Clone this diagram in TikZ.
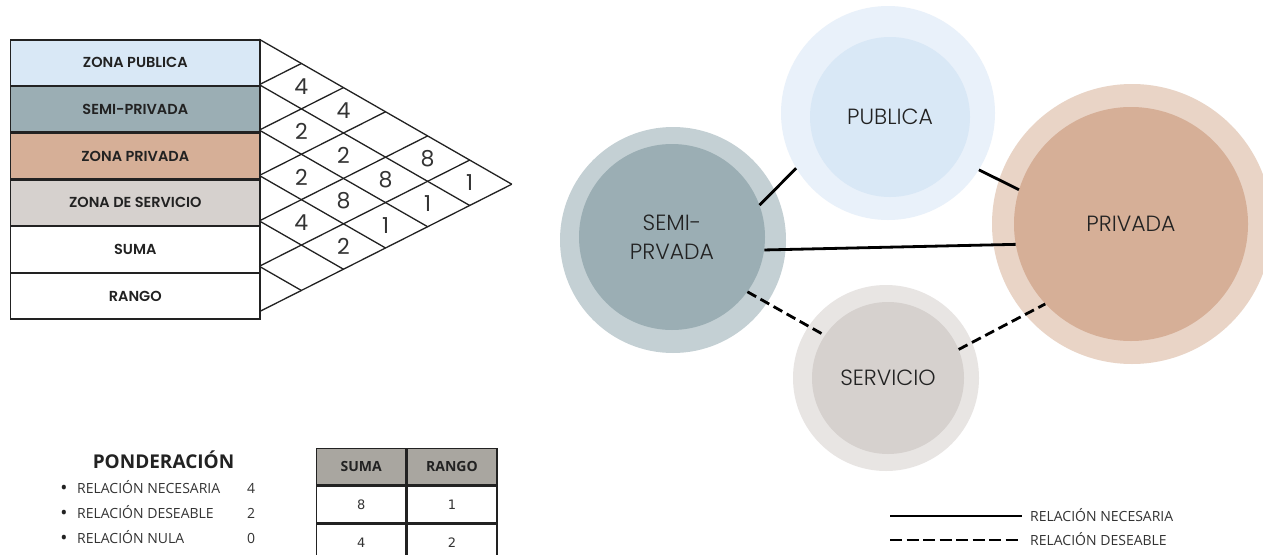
\documentclass[tikz,border=0pt]{standalone}
\usepackage{fontspec}
\setmainfont{Open Sans}
\newfontfamily\popf{Poppins}
\newfontfamily\popl{Poppins Light}
\newfontfamily\pops{Poppins SemiBold}
\newfontfamily\dejf{DejaVu Sans}
\usetikzlibrary{calc}
\definecolor{pubIn}{HTML}{D9E8F6}
\definecolor{pubOut}{HTML}{E9F1FA}
\definecolor{semIn}{HTML}{9BAEB4}
\definecolor{semOut}{HTML}{C4D0D4}
\definecolor{priIn}{HTML}{D6AF97}
\definecolor{priOut}{HTML}{E9D4C6}
\definecolor{serIn}{HTML}{D6D1CE}
\definecolor{serOut}{HTML}{E8E5E3}
\definecolor{hdr}{HTML}{A9A6A0}
\definecolor{ink}{HTML}{222222}
\definecolor{txt}{HTML}{333333}
\begin{document}
\begin{tikzpicture}[x=1pt,y=-1pt,
  rowcell/.style={draw=ink, line width=1.3pt, minimum width=249.3pt, minimum height=45.4pt,
    inner sep=0pt, anchor=north west, font=\pops\fontsize{14.5}{16}\selectfont, text=ink},
  tri/.style={draw=ink, line width=1.3pt},
  num/.style={font=\popf\fontsize{22}{24}\selectfont, text=txt, inner sep=0pt},
  ring/.style={circle, inner sep=0pt, draw=none},
  lab/.style={circle, inner sep=0pt, draw=none, align=center, text=ink,
    font=\popl\fontsize{22}{29}\selectfont},
  rel/.style={draw=black, line width=2.8pt},
  reld/.style={rel, dash pattern=on 10pt off 5pt},
  tcell/.style={draw=ink, line width=1.3pt, inner sep=0pt, anchor=north west},
  thd/.style={tcell, fill=hdr, minimum height=36pt, font=\bfseries\fontsize{14}{16}\selectfont, text=ink},
  tnum/.style={tcell, minimum height=37pt, font=\dejf\fontsize{13}{15}\selectfont, text=txt},
  leg/.style={inner sep=0pt, font=\fontsize{14}{16}\selectfont, text=txt},
  bul/.style={inner sep=0pt, font=\fontsize{19}{20}\selectfont, text=ink}
]
\useasboundingbox (0,0) rectangle (1263,554);
\fill[white] (0,0) rectangle (1263,554);

% ---------- relationship matrix: rows ----------
\node[rowcell, fill=pubIn] (r0) at (10,39.3) {ZONA PUBLICA};
\node[rowcell, fill=semIn] (r1) at (r0.south west) {SEMI-PRIVADA};
\node[rowcell, fill=priIn] (r2) at (r1.south west) {ZONA PRIVADA};
\node[rowcell, fill=serIn] (r3) at (r2.south west) {ZONA DE SERVICIO};
\node[rowcell, fill=white] (r4) at (r3.south west) {SUMA};
\node[rowcell, fill=white] (r5) at (r4.south west) {RANGO};

% ---------- relationship matrix: triangle grid ----------
\foreach \a in {0,...,6}{
  \foreach \b in {\a,...,6}{
    \coordinate (g\a\b) at ({259.3+(\b-\a)*42.08}, {39.3+\a*45.4+0.574*(\b-\a)*42.08});
  }
}
\foreach \k in {0,...,5}{
  \draw[tri] (g\k\k) -- (g\k6);
}
\foreach \k in {1,...,6}{
  \draw[tri] (g\k\k) -- (g0\k);
}
\foreach \i/\j/\ii/\jj/\v in {0/1/1/2/4, 0/2/1/3/4, 1/2/2/3/2, 1/3/2/4/2, 2/3/3/4/2,
    0/4/1/5/8, 0/5/1/6/1, 1/4/2/5/8, 1/5/2/6/1, 2/4/3/5/8, 2/5/3/6/1, 3/4/4/5/4, 3/5/4/6/2}{
  \node[num] (n\i\j) at ($(g\i\j)!0.5!(g\ii\jj)$) {\v};
}

% ---------- bubble diagram ----------
\node[ring, fill=pubOut, minimum size=214pt] (pubO) at (888,113) {};
\node[lab, fill=pubIn, minimum size=160pt] (pubI) at (890,117) {PUBLICA};
\node[ring, fill=semOut, minimum size=226pt] (semO) at (673,240) {};
\node[lab, fill=semIn, minimum size=186pt] (semI) at (672,237) {SEMI-\\PRVADA};
\node[ring, fill=priOut, minimum size=280pt] (priO) at (1132,224) {};
\node[lab, fill=priIn, minimum size=234pt] (priI) at (1131,224) {PRIVADA};
\node[ring, fill=serOut, minimum size=186pt] (serO) at (886,378) {};
\node[lab, fill=serIn, minimum size=152pt] (serI) at (888,378) {SERVICIO};

\draw[rel] (semI.20.4) -- (pubO.211.5);
\draw[rel] (pubO.328.4) -- (priI.163.1);
\draw[rel] (semI.-8) -- (priI.190);
\draw[reld] (semI.-36.2) -- (serI.146.5);
\draw[reld] (serI.22.9) -- (priI.223);

% ---------- ponderacion ----------
\node[font=\bfseries\fontsize{19}{21}\selectfont, text=ink, inner sep=0pt] (pond) at (163.5,460) {PONDERACIÓN};
\node[bul, anchor=base] (b1) at (64,494) {\textbullet};
\node[leg, anchor=base west] (l1) at (77,493) {RELACIÓN NECESARIA};
\node[leg, anchor=base] (v1) at (251,493) {4};
\node[bul, anchor=base] (b2) at (64,519) {\textbullet};
\node[leg, anchor=base west] (l2) at (77,518) {RELACIÓN DESEABLE};
\node[leg, anchor=base] (v2) at (251,518) {2};
\node[bul, anchor=base] (b3) at (64,544) {\textbullet};
\node[leg, anchor=base west] (l3) at (77,543) {RELACIÓN NULA};
\node[leg, anchor=base] (v3) at (251,543) {0};

% ---------- suma / rango table ----------
\node[thd, minimum width=89pt] (hs) at (316,448) {SUMA};
\node[thd, minimum width=90pt] (hr) at (hs.north east) {RANGO};
\node[tnum, minimum width=89pt] (s1) at (hs.south west) {8};
\node[tnum, minimum width=90pt] (q1) at (s1.north east) {1};
\node[tnum, minimum width=89pt] (s2) at (s1.south west) {4};
\node[tnum, minimum width=90pt] (q2) at (s2.north east) {2};

% ---------- line legend ----------
\coordinate (ls1) at (890,516);
\coordinate (le1) at (1022,516);
\coordinate (ls2) at (890,540);
\coordinate (le2) at (1022,540);
\draw[rel, line width=2.5pt] (ls1) -- (le1);
\draw[rel, line width=2.5pt, dash pattern=on 12pt off 4.5pt] (ls2) -- (le2);
\node[leg, anchor=base west] (t1) at (1030,521) {RELACIÓN NECESARIA};
\node[leg, anchor=base west] (t2) at (1030,545) {RELACIÓN DESEABLE};
\end{tikzpicture}
\end{document}
